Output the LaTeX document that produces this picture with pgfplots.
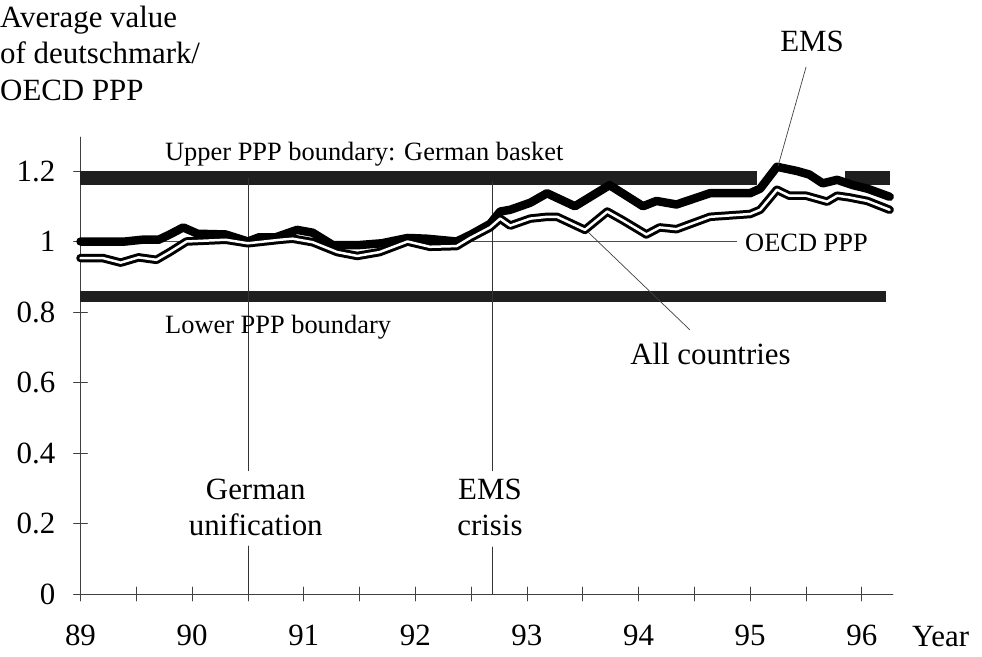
\documentclass[border=0pt]{standalone}
\usepackage{fontspec}
\setmainfont{Liberation Serif}
\usepackage{pgfplots}
\usepackage{pgfplotstable}
\pgfplotsset{compat=1.18}

\pgfplotstableread{
x y
89.0 1.000
89.2 1.000
89.4 1.000
89.55 1.005
89.7 1.005
89.8 1.02
89.92 1.04
90.05 1.022
90.3 1.02
90.5 1.0
90.6 1.012
90.75 1.012
90.94 1.033
91.08 1.025
91.26 0.99
91.5 0.99
91.7 0.995
91.93 1.01
92.1 1.008
92.37 1.0
92.5 1.02
92.67 1.05
92.76 1.085
92.85 1.09
93.03 1.11
93.18 1.137
93.43 1.10
93.74 1.16
94.04 1.10
94.16 1.115
94.34 1.105
94.64 1.137
95.0 1.137
95.09 1.15
95.24 1.212
95.42 1.2
95.53 1.19
95.65 1.165
95.78 1.175
95.92 1.16
96.05 1.15
96.25 1.127
}\ems

\pgfplotstableread{
x y
89.0 0.953
89.2 0.953
89.36 0.94
89.52 0.955
89.68 0.948
89.8 0.97
89.95 1.0
90.3 1.005
90.5 0.995
90.79 1.005
90.9 1.008
91.08 0.998
91.3 0.97
91.48 0.959
91.68 0.97
91.93 1.0
92.13 0.985
92.37 0.987
92.49 1.01
92.67 1.04
92.76 1.065
92.85 1.045
93.03 1.065
93.18 1.07
93.27 1.07
93.52 1.033
93.72 1.085
93.86 1.06
94.07 1.02
94.19 1.04
94.34 1.035
94.64 1.07
95.0 1.078
95.09 1.09
95.24 1.147
95.35 1.13
95.5 1.13
95.69 1.113
95.78 1.13
95.89 1.125
96.05 1.115
96.25 1.09
}\allc

\newcommand{\bigfont}{\fontsize{31}{36}\selectfont}
\newcommand{\midfont}{\fontsize{26.5}{30}\selectfont}

\begin{document}
\begin{tikzpicture}
\useasboundingbox (-80.5bp,-63bp) rectangle (901.5bp,594bp);
\begin{axis}[
  scale only axis, width=812.5bp, height=457bp,
  xmin=89, xmax=96.28, ymin=0, ymax=1.2965,
  axis x line=bottom, axis y line=left,
  axis line style={-, black!75, line width=0.8bp},
  xtick={89,90,91,92,93,94,95,96},
  xticklabels={89,90,91,92,93,94,95,96},
  minor xtick={89.5,90.5,91.5,92.5,93.5,94.5,95.5},
  ytick={0,0.2,0.4,0.6,0.8,1,1.2},
  yticklabels={0,0.2,0.4,0.6,0.8,1,1.2},
  tick align=center,
  major tick length=14bp, minor tick length=14bp,
  tick style={black!75, line width=0.8bp},
  xticklabel style={font=\fontsize{31}{31}\selectfont, inner sep=0pt, anchor=base, yshift=-44bp},
  yticklabel style={font=\fontsize{31}{31}\selectfont, inner sep=0pt, anchor=east, xshift=-18bp},
  clip=false,
  line join=round, line cap=round,
]
% reference line at OECD PPP = 1
\addplot[black!70, line width=0.7bp, line cap=butt] coordinates {(89,1) (94.88,1)};
% PPP boundaries
\addplot[black!88, line width=14bp, line cap=butt] coordinates {(89,1.18) (95.06,1.18)};
\addplot[black!88, line width=14bp, line cap=butt] coordinates {(95.85,1.18) (96.25,1.18)};
\addplot[black!88, line width=11bp, line cap=butt] coordinates {(89,0.843) (96.22,0.843)};
% event lines
\draw[black!80, line width=0.8bp] (axis cs:90.5,1.18) -- (axis cs:90.5,0.35);
\draw[black!80, line width=0.8bp] (axis cs:90.5,0.136) -- (axis cs:90.5,0);
\draw[black!80, line width=0.8bp] (axis cs:92.69,1.17) -- (axis cs:92.69,0.35);
\draw[black!80, line width=0.8bp] (axis cs:92.69,0.133) -- (axis cs:92.69,0);
% series
\addplot[black, line width=8.5bp] table {\ems};
\addplot[black, line width=8.5bp] table {\allc};
\addplot[white, line width=2.5bp] table {\allc};
% leader lines
\draw[black!75, line width=0.7bp] (axis cs:95.501,1.495) -- (axis cs:95.25,1.214);
\draw[black!75, line width=0.7bp] (axis cs:93.547,1.027) -- (axis cs:94.461,0.749);
% labels
\node[anchor=base west, inner sep=0pt, font=\bigfont] at (axis cs:88.279,1.606) {Average value};
\node[anchor=base west, inner sep=0pt, font=\bigfont] at (axis cs:88.279,1.504) {of deutschmark/};
\node[anchor=base west, inner sep=0pt, font=\bigfont] at (axis cs:88.279,1.401) {OECD PPP};
\node[anchor=base west, inner sep=0pt, font=\bigfont] at (axis cs:96.45,-0.150) {Year};
\node[anchor=base west, inner sep=0pt, font=\midfont] at (axis cs:89.757,1.231) {Upper PPP boundary: German basket};
\node[anchor=base west, inner sep=0pt, font=\midfont] at (axis cs:89.757,0.740) {Lower PPP boundary};
\node[anchor=base west, inner sep=0pt, font=\midfont] at (axis cs:94.954,0.972) {OECD PPP};
\node[anchor=base west, inner sep=0pt, font=\bigfont] at (axis cs:93.924,0.652) {All countries};
\node[anchor=base, inner sep=0pt, font=\bigfont] at (axis cs:90.57,0.267) {German};
\node[anchor=base, inner sep=0pt, font=\bigfont] at (axis cs:90.57,0.165) {unification};
\node[anchor=base, inner sep=0pt, font=\bigfont] at (axis cs:92.669,0.267) {EMS};
\node[anchor=base, inner sep=0pt, font=\bigfont] at (axis cs:92.669,0.165) {crisis};
\node[anchor=base, inner sep=0pt, font=\bigfont] at (axis cs:95.555,1.538) {EMS};
\end{axis}
\end{tikzpicture}
\end{document}
